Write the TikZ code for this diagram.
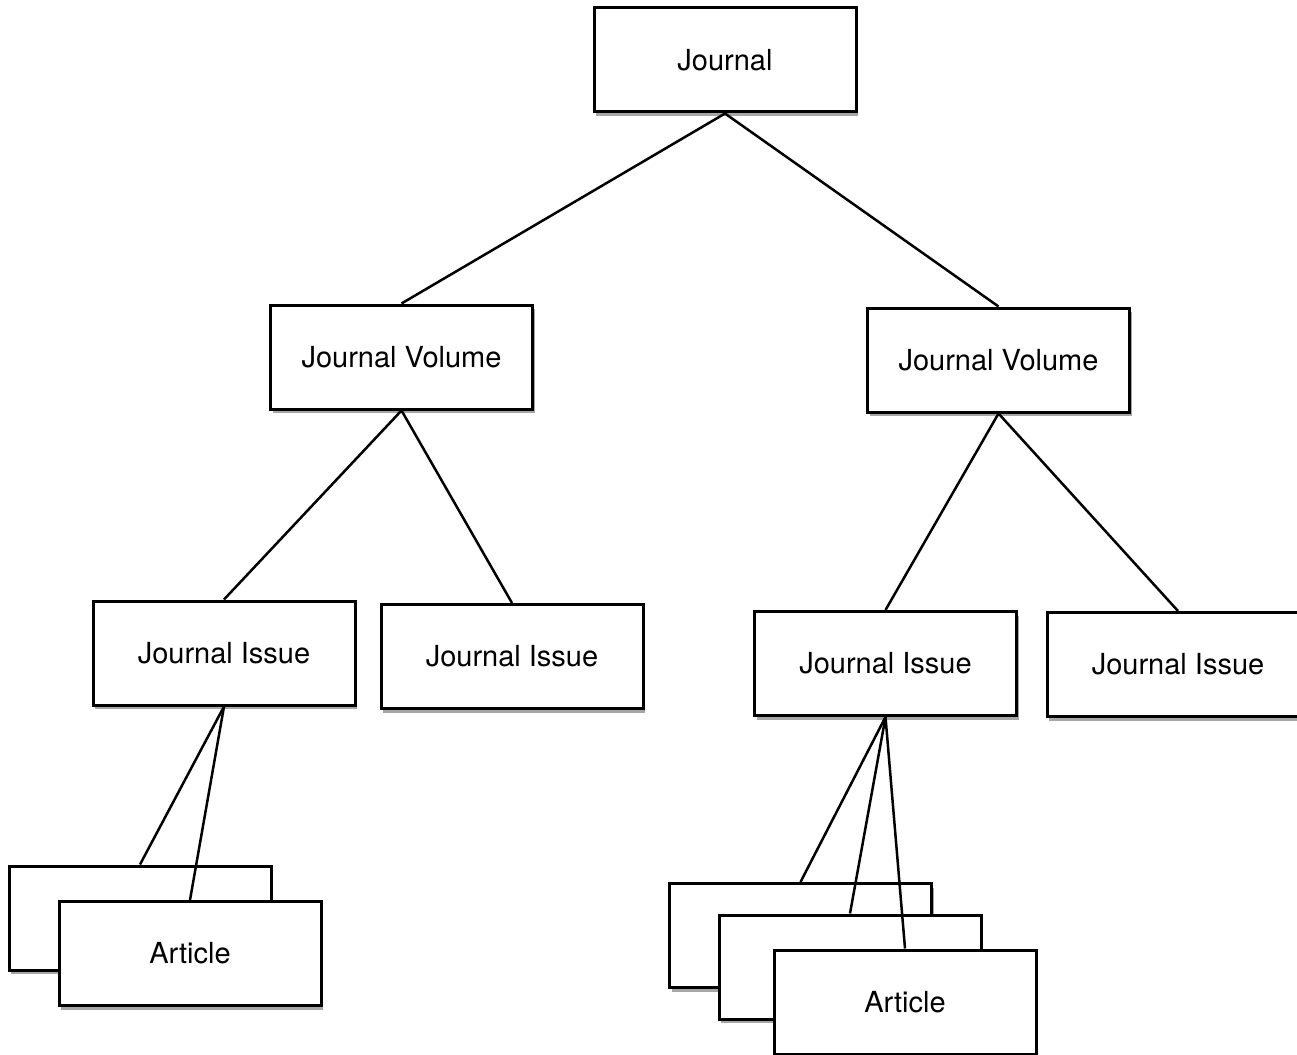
\documentclass[tikz,border=0pt]{standalone}
\usepackage{fontspec}
\setmainfont{TeX Gyre Heros}
\usetikzlibrary{shadows}
\begin{document}
\begin{tikzpicture}[x=1pt,y=-1pt,
  box/.style={draw=black, line width=3pt, fill=white, rectangle, inner sep=0pt,
    minimum width=262pt, minimum height=104pt,
    font=\fontsize{29}{34}\selectfont,
    drop shadow={shadow xshift=2pt, shadow yshift=-4pt, opacity=0.35, fill=black}},
  conn/.style={draw=black, line width=2.5pt}]
\useasboundingbox (0,0) rectangle (1297,1054);
\clip (0,0) rectangle (1297,1054);
\node[box] (J) at (725,60) {Journal};
\node[box] (V1) at (401.5,357) {Journal Volume};
\node[box] (V2) at (998.5,360) {Journal Volume};
\node[box] (I1) at (224,653) {Journal Issue};
\node[box] (I2) at (512,656.5) {Journal Issue};
\node[box] (I3) at (885.5,663.5) {Journal Issue};
\node[box] (I4) at (1178,664.5) {Journal Issue};
\node[box] (A1b) at (140,918) {};
\node[box] (A1f) at (190,953.5) {Article};
\node[box] (A2a) at (800.5,935.5) {};
\node[box] (A2b) at (850,967) {};
\node[box] (A2c) at (905,1002) {Article};
\draw[conn] (J.south) -- (V1.north);
\draw[conn] (J.south) -- (V2.north);
\draw[conn] (V1.south) -- (I1.north);
\draw[conn] (V1.south) -- (I2.north);
\draw[conn] (V2.south) -- (I3.north);
\draw[conn] (V2.south) -- (I4.north);
\draw[conn] (I1.south) -- (A1b.north);
\draw[conn] (I1.south) -- (A1f.north);
\draw[conn] (I3.south) -- (A2a.north);
\draw[conn] (I3.south) -- (A2b.north);
\draw[conn] (I3.south) -- (A2c.north);
\end{tikzpicture}
\end{document}
